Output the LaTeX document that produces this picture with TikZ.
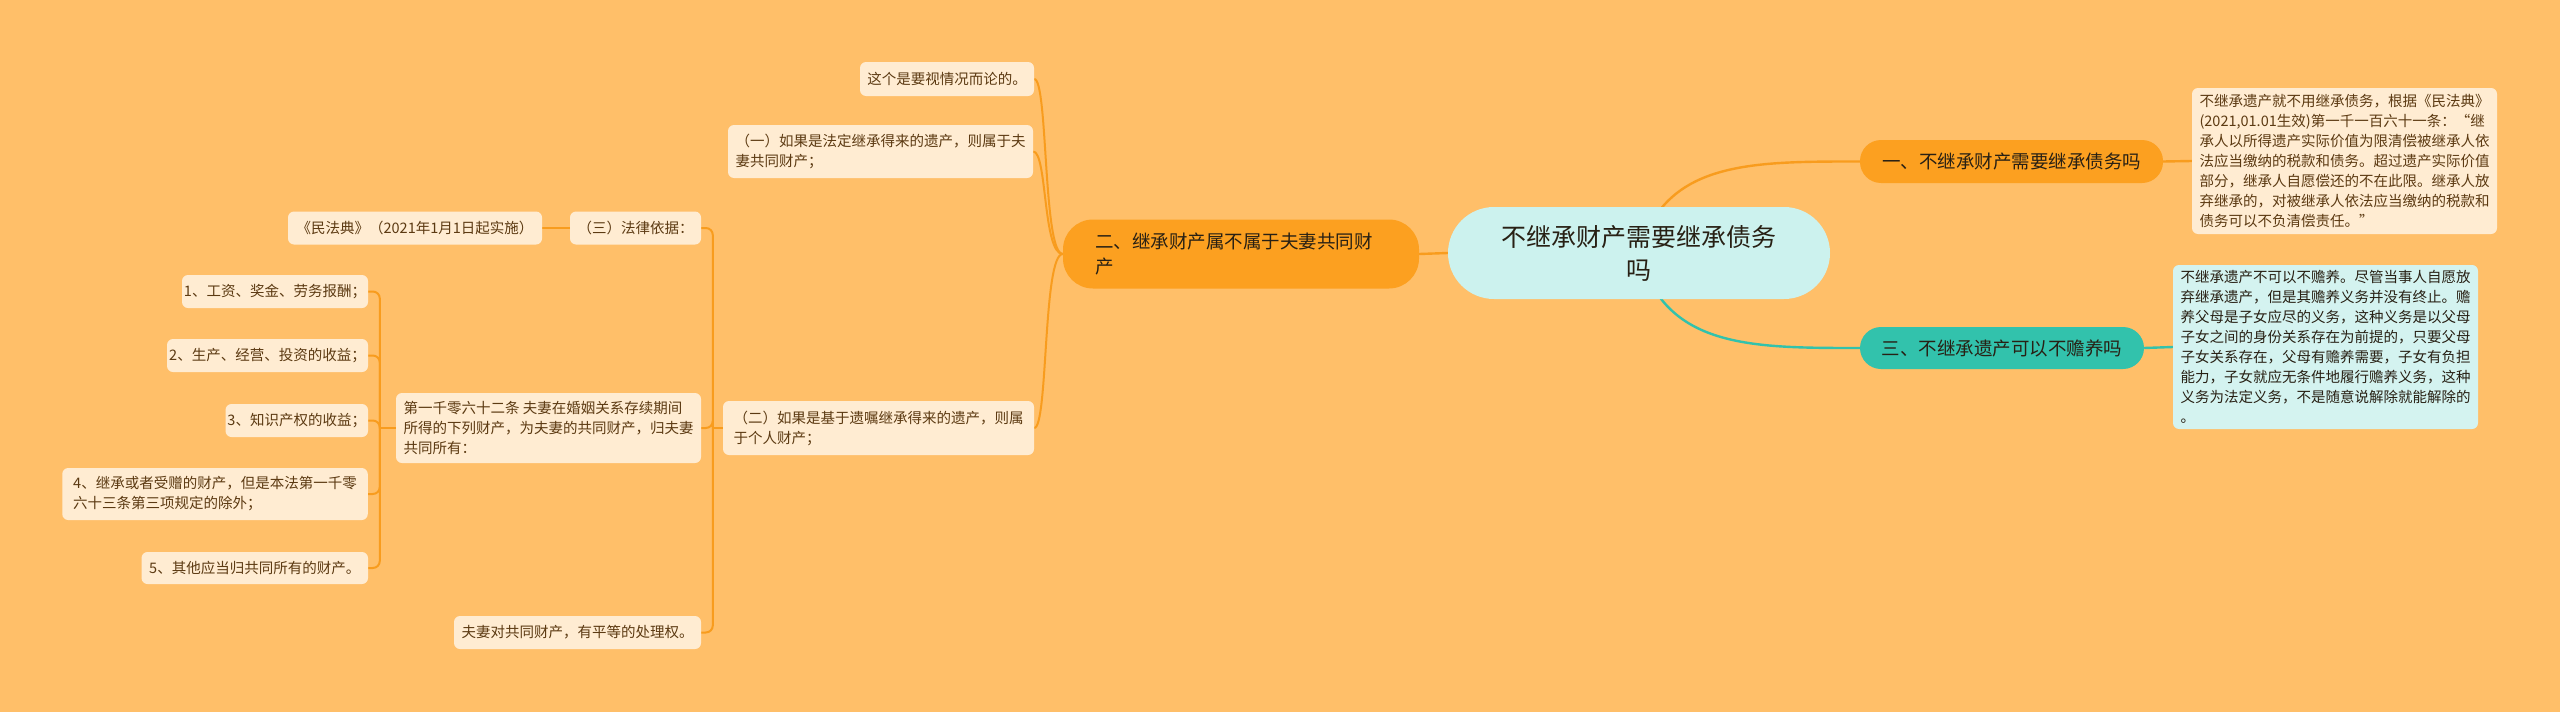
\documentclass[tikz,border=0pt]{standalone}
\usepackage{fontspec}
\newfontfamily\cjk{Noto Sans CJK SC}
\definecolor{bgc}{RGB}{255,191,105}
\definecolor{branchc}{RGB}{252,160,32}
\definecolor{lineO}{RGB}{248,156,30}
\definecolor{leafc}{RGB}{255,236,210}
\definecolor{centralc}{RGB}{204,242,238}
\definecolor{tealc}{RGB}{50,194,172}
\definecolor{leaftc}{RGB}{212,243,240}
\definecolor{leaftxt}{RGB}{92,58,18}
\definecolor{darktxt}{RGB}{40,32,20}
\pgfdeclarelayer{bglayer}
\pgfdeclarelayer{edgelayer}
\pgfsetlayers{bglayer,edgelayer,main}
\tikzset{
  leaf/.style={fill=leafc, rounded corners=6pt, inner sep=0pt, align=left,
    font=\cjk\fontsize{14.5}{20}\selectfont, text=leaftxt},
  leaft/.style={leaf, fill=leaftc, text=darktxt},
  branch/.style={fill=branchc, inner sep=0pt, font=\cjk\fontsize{18.5}{25}\selectfont, text=darktxt},
  centre/.style={fill=centralc, inner sep=0pt, rounded corners=46pt, align=center,
    font=\cjk\fontsize{25}{33}\selectfont, text=darktxt},
  edgeO/.style={draw=lineO, line width=2.4pt},
  edgeT/.style={draw=tealc, line width=2.4pt},
  edgeS/.style={draw=lineO, line width=2pt, rounded corners=7pt},
}
\begin{document}
\begin{tikzpicture}[x=1pt,y=-1pt]
\path[use as bounding box] (0,0) rectangle (2560,712);
\begin{pgfonlayer}{bglayer}
\fill[bgc] (0,0) rectangle (2560,712);
\end{pgfonlayer}

% central and branches
\node[centre, minimum width=382pt, minimum height=92pt] (C) at (1639,253) {不继承财产需要继承债务\\吗};
\node[branch, rounded corners=21pt, minimum width=303pt, minimum height=43pt] (B1) at (2011.5,161.5) {一、不继承财产需要继承债务吗};
\node[branch, fill=tealc, rounded corners=21pt, minimum width=284pt, minimum height=42pt] (B3) at (2002,348) {三、不继承遗产可以不赡养吗};
\node[branch, rounded corners=30pt, minimum width=356pt, minimum height=69pt, text width=292pt, align=left] (B2) at (1241,254) {二、继承财产属不属于夫妻共同财\\产};

% right leaves
\node[leaf, minimum width=305pt, minimum height=146pt] (R1) at (2344.5,161) {不继承遗产就不用继承债务，根据《民法典》\\(2021,01.01生效)第一千一百六十一条：“继\\承人以所得遗产实际价值为限清偿被继承人依\\法应当缴纳的税款和债务。超过遗产实际价值\\部分，继承人自愿偿还的不在此限。继承人放\\弃继承的，对被继承人依法应当缴纳的税款和\\债务可以不负清偿责任。”};
\node[leaft, minimum width=305pt, minimum height=164pt] (R3) at (2325.5,347) {不继承遗产不可以不赡养。尽管当事人自愿放\\弃继承遗产，但是其赡养义务并没有终止。赡\\养父母是子女应尽的义务，这种义务是以父母\\子女之间的身份关系存在为前提的，只要父母\\子女关系存在，父母有赡养需要，子女有负担\\能力，子女就应无条件地履行赡养义务，这种\\义务为法定义务，不是随意说解除就能解除的\\。};

% left leaves
\node[leaf, minimum width=174pt, minimum height=34pt] (La) at (947,79) {这个是要视情况而论的。};
\node[leaf, minimum width=305pt, minimum height=53pt] (Lb) at (880.5,151.5) {（一）如果是法定继承得来的遗产，则属于夫\\妻共同财产；};
\node[leaf, minimum width=311pt, minimum height=54pt] (Lc) at (878.5,428) {（二）如果是基于遗嘱继承得来的遗产，则属\\于个人财产；};
\node[leaf, minimum width=131pt, minimum height=33pt] (Ld) at (635.5,228) {（三）法律依据：};
\node[leaf, minimum width=254pt, minimum height=33pt] (Ld1) at (415,228) {《民法典》（2021年1月1日起实施）};
\node[leaf, minimum width=305pt, minimum height=70pt] (Le) at (548.5,428) {第一千零六十二条 夫妻在婚姻关系存续期间\\所得的下列财产，为夫妻的共同财产，归夫妻\\共同所有：};
\node[leaf, minimum width=247pt, minimum height=33pt] (Lf) at (577.5,632.5) {夫妻对共同财产，有平等的处理权。};
\node[leaf, minimum width=186pt, minimum height=33pt] (L1) at (275,291.5) {1、工资、奖金、劳务报酬；};
\node[leaf, minimum width=201pt, minimum height=33pt] (L2) at (267.5,355.5) {2、生产、经营、投资的收益；};
\node[leaf, minimum width=142.5pt, minimum height=33pt] (L3) at (296.75,420.5) {3、知识产权的收益；};
\node[leaf, minimum width=305.5pt, minimum height=52pt] (L4) at (215,494) {4、继承或者受赠的财产，但是本法第一千零\\六十三条第三项规定的除外；};
\node[leaf, minimum width=226.5pt, minimum height=32pt] (L5) at (254.75,568) {5、其他应当归共同所有的财产。};

\begin{pgfonlayer}{edgelayer}
\draw[edgeO] (C.west) -- (B2.east);
\draw[edgeO] (C.center) .. controls +(26,-92) and +(-110,0) .. (B1.west);
\draw[edgeT] (C.center) .. controls +(26,95) and +(-110,0) .. (B3.west);
\draw[edgeO] (B1.east) -- (R1.west);
\draw[edgeT] (B3.east) -- (R3.west);
\draw[edgeS] (B2.west) .. controls +(-20,0) and +(14,0) .. (La.east);
\draw[edgeS] (B2.west) .. controls +(-20,0) and +(14,0) .. (Lb.east);
\draw[edgeS] (B2.west) .. controls +(-20,0) and +(14,0) .. (Lc.east);
\draw[edgeS] (Lc.west) -- ++(-10,0) coordinate (tC);
\draw[edgeS] (tC) |- (Ld.east);
\draw[edgeS] (tC) |- (Le.east);
\draw[edgeS] (tC) |- (Lf.east);
\draw[edgeS] (Ld.west) -- (Ld1.east);
\draw[edgeS] (Le.west) -- ++(-16,0) coordinate (tE);
\draw[edgeS] (tE) |- (L1.east);
\draw[edgeS] (tE) |- (L2.east);
\draw[edgeS] (tE) |- (L3.east);
\draw[edgeS] (tE) |- (L4.east);
\draw[edgeS] (tE) |- (L5.east);
\end{pgfonlayer}
\end{tikzpicture}
\end{document}
